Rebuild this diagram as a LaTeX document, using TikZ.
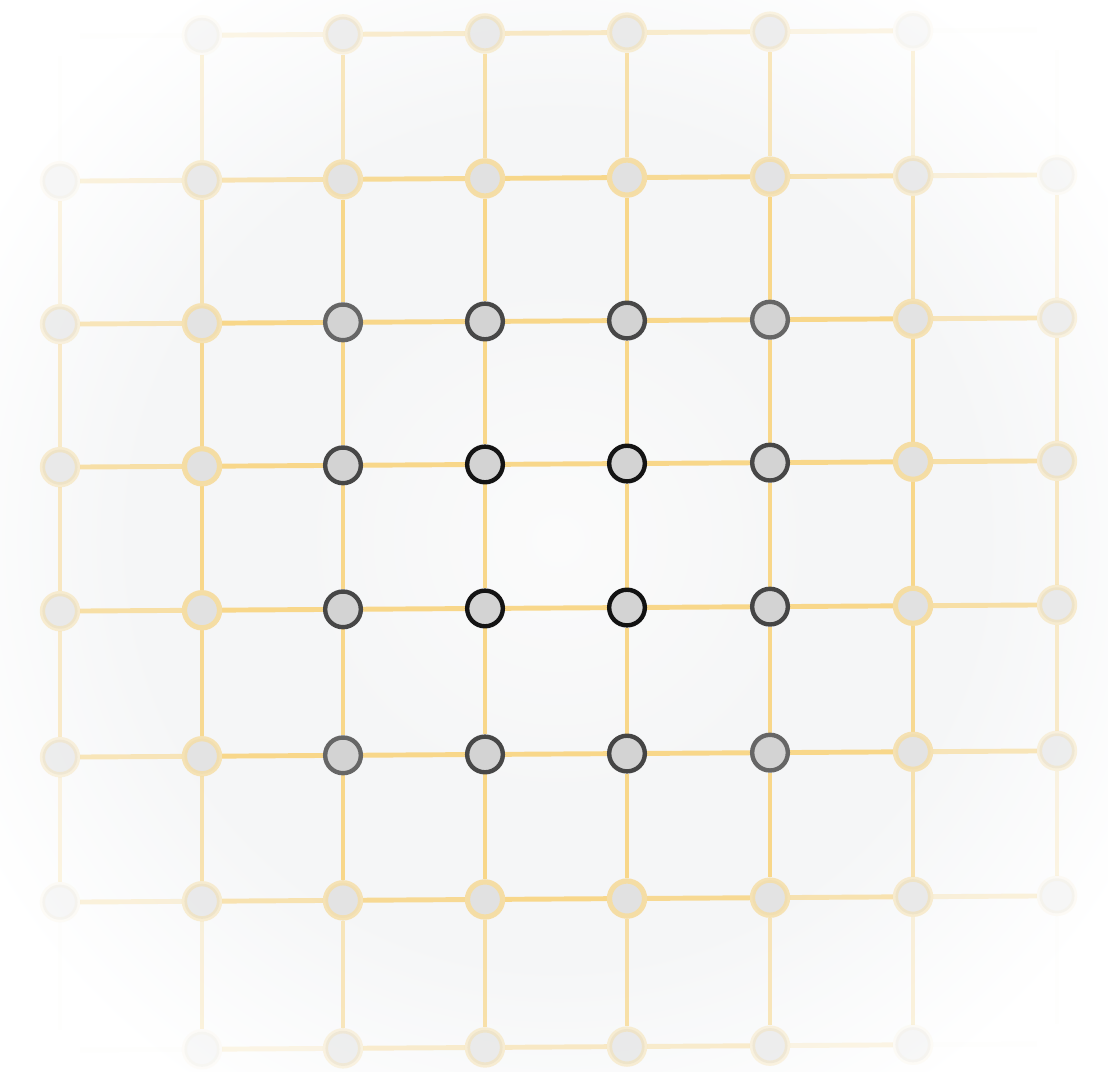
\documentclass[tikz,border=0pt]{standalone}
\definecolor{linkyellow}{HTML}{F8D78A}
\definecolor{ringyellow}{HTML}{F5DDA4}
\definecolor{dotgray}{HTML}{D3D3D3}
\definecolor{paledot}{HTML}{E1E1E1}
\definecolor{hazemid}{HTML}{F5F6F7}
\definecolor{hazecore}{HTML}{FBFBFB}
\pgfdeclareradialshading{haze}{\pgfpoint{0bp}{0bp}}{color(0bp)=(hazecore); color(10bp)=(hazemid); color(16bp)=(hazemid); color(25bp)=(white); color(50bp)=(white)}
\pgfdeclarelayer{backdrop}
\pgfdeclarelayer{links}
\pgfsetlayers{backdrop,links,main}
\tikzset{
  core dot/.style={circle, draw=#1, line width=2.5pt, fill=dotgray, minimum size=20.3pt, inner sep=0pt},
  rim dot/.style={circle, draw=ringyellow, line width=3pt, fill=paledot, minimum size=20pt, inner sep=0pt},
  link/.style={draw=linkyellow, line width=2.8pt},
}
\def\colx{{60,202,343,485,627,770,913,1057}}
\def\rowy{{33,178,321,464,608,754,899,1047}}
\begin{document}
\begin{tikzpicture}[x=0.02cm,y=-0.02cm]
  \useasboundingbox (0,0) rectangle (1108,1071);
  % backdrop
  \begin{pgfonlayer}{backdrop}
    \fill[white] (0,0) rectangle (1108,1071);
    \begin{scope}
      \clip (0,0) rectangle (1108,1071);
      \shade[shading=haze] (558,540) circle (660);
    \end{scope}
  \end{pgfonlayer}
  % dots
  \foreach \i in {0,...,7}{
    \foreach \j in {0,...,7}{
      \pgfmathsetmacro{\px}{\colx[\i]}
      \pgfmathsetmacro{\py}{\rowy[\j]-0.9*(\i-3.5)}
      \pgfmathsetmacro{\dd}{veclen(\px-558,\py-540)}
      \pgfmathsetmacro{\op}{max(0,min(1,(640-\dd)/280))}
      \pgfmathsetmacro{\fo}{\op^0.6}
      \pgfmathtruncatemacro{\core}{(\i>1)*(\i<6)*(\j>1)*(\j<6)}
      \pgfmathtruncatemacro{\bk}{min(94,109-0.16*\dd)}
      \ifnum\core=1
        \node[core dot=black!\bk] (n\i\j) at (\px,\py) {};
      \else
        \node[rim dot, draw opacity=\op, fill opacity=\fo] (n\i\j) at (\px,\py) {};
      \fi
    }
  }
  % links
  \begin{pgfonlayer}{links}
    \foreach \i in {0,...,6}{
      \foreach \j in {0,...,7}{
        \pgfmathtruncatemacro{\k}{\i+1}
        \pgfmathsetmacro{\ax}{\colx[\i]}
        \pgfmathsetmacro{\bx}{\colx[\k]}
        \pgfmathsetmacro{\my}{\rowy[\j]}
        \pgfmathsetmacro{\eo}{max(0.01,min(1,(640-veclen((\ax+\bx)/2-558,\my-540))/280))}
        \draw[link, opacity=\eo] (n\i\j) -- (n\k\j);
      }
    }
    \foreach \i in {0,...,7}{
      \foreach \j in {0,...,6}{
        \pgfmathtruncatemacro{\k}{\j+1}
        \pgfmathsetmacro{\mx}{\colx[\i]}
        \pgfmathsetmacro{\ay}{\rowy[\j]}
        \pgfmathsetmacro{\by}{\rowy[\k]}
        \pgfmathsetmacro{\eo}{max(0.01,min(1,(640-veclen(\mx-558,(\ay+\by)/2-540))/280))}
        \draw[link, opacity=\eo] (n\i\j) -- (n\i\k);
      }
    }
  \end{pgfonlayer}
\end{tikzpicture}
\end{document}
